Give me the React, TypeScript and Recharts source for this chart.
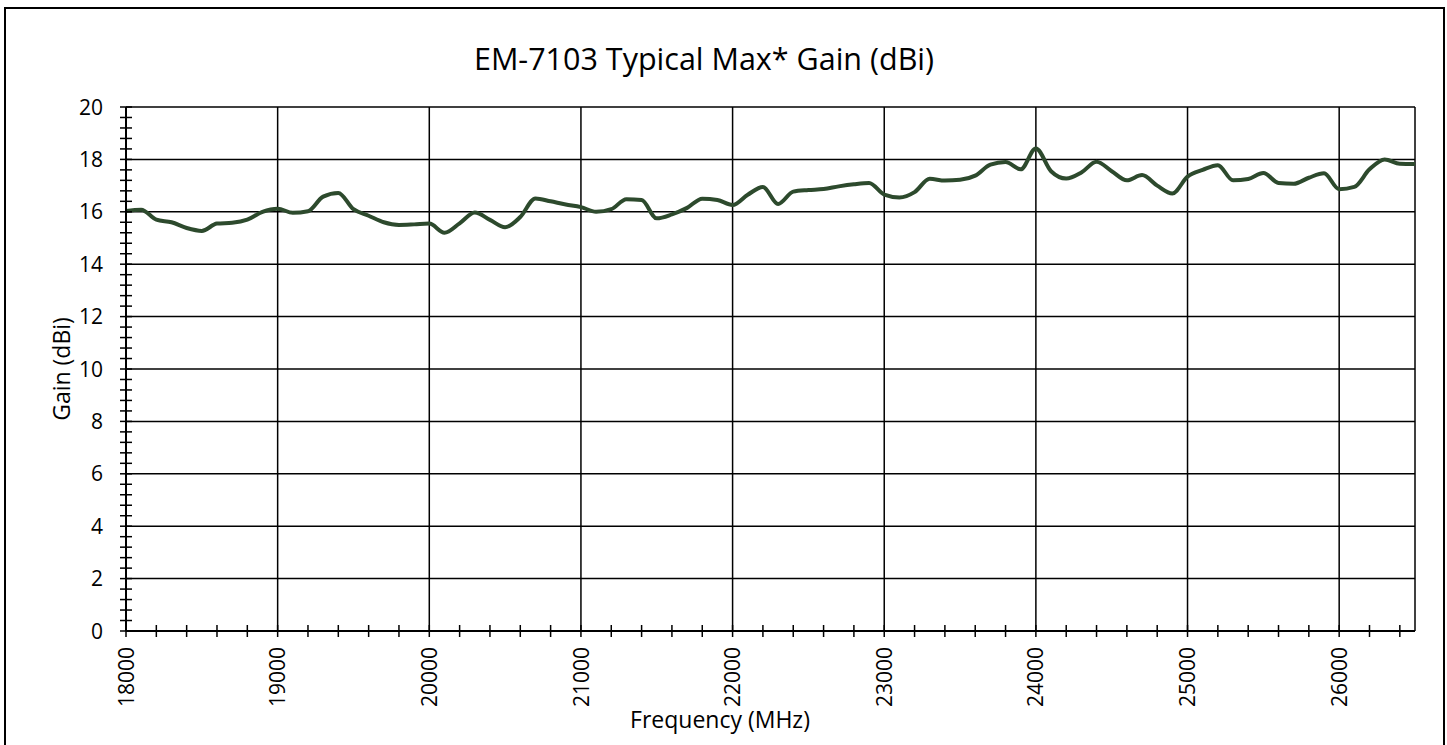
import React from "react";
import { CartesianGrid, Line, LineChart, XAxis, YAxis } from "recharts";

// frequency (MHz) and measured max gain (dBi), read every 100 MHz
const frequencies = [
  18000, 18100, 18200, 18300, 18400, 18500, 18600, 18700, 18800, 18900,
  19000, 19100, 19200, 19300, 19400, 19500, 19600, 19700, 19800, 19900,
  20000, 20100, 20200, 20300, 20400, 20500, 20600, 20700, 20800, 20900,
  21000, 21100, 21200, 21300, 21400, 21500, 21600, 21700, 21800, 21900,
  22000, 22100, 22200, 22300, 22400, 22500, 22600, 22700, 22800, 22900,
  23000, 23100, 23200, 23300, 23400, 23500, 23600, 23700, 23800, 23900,
  24000, 24100, 24200, 24300, 24400, 24500, 24600, 24700, 24800, 24900,
  25000, 25100, 25200, 25300, 25400, 25500, 25600, 25700, 25800, 25900,
  26000, 26100, 26200, 26300, 26400, 26500,
];

const gain = [
  16.03, 16.08, 15.7, 15.6, 15.38, 15.27, 15.55, 15.58, 15.7, 16.0,
  16.12, 15.96, 16.02, 16.58, 16.72, 16.1, 15.85, 15.6, 15.5, 15.52,
  15.55, 15.2, 15.56, 15.97, 15.69, 15.41, 15.8, 16.51, 16.4, 16.28,
  16.18, 16.0, 16.1, 16.48, 16.45, 15.75, 15.9, 16.15, 16.5, 16.45,
  16.26, 16.65, 16.95, 16.3, 16.77, 16.83, 16.87, 16.97, 17.05, 17.1,
  16.66, 16.55, 16.75, 17.26, 17.19, 17.22, 17.38, 17.8, 17.9, 17.62,
  18.42, 17.55, 17.27, 17.5, 17.91, 17.55, 17.2, 17.4, 17.0, 16.7,
  17.34, 17.6, 17.78, 17.2, 17.25, 17.48, 17.1, 17.07, 17.3, 17.47,
  16.86, 16.95, 17.62, 18.0, 17.83, 17.82,
];

const xMajorTicks = [18000, 19000, 20000, 21000, 22000, 23000, 24000, 25000, 26000];
const yMajorTicks = [0, 2, 4, 6, 8, 10, 12, 14, 16, 18, 20];
const xDomain: [number, number] = [18000, 26500];
const yDomain: [number, number] = [0, 20];

const FONT = "'Open Sans', sans-serif";
const LINE_COLOR = "#2d4a2d";

const data = frequencies.map((f, i) => ({ f, g: gain[i] }));

// 5 minor divisions per major step
const subdivide = (major: number[], step: number, max: number) =>
  major
    .flatMap((m) => [0, 1, 2, 3, 4].map((k) => Math.round((m + (k * step) / 5) * 100) / 100))
    .filter((v) => v <= max);

const xTicks = subdivide(xMajorTicks, 1000, xDomain[1] - 1);
const yTicks = subdivide(yMajorTicks, 2, yDomain[1]);

const Y_GAP = 23;
const X_GAP = 16;

const YTick = (props: any) => {
  const { x, y, payload } = props;
  const v = payload.value;
  const ax = x + Y_GAP;
  return (
    <g>
      <line x1={ax - 6} x2={ax + 6} y1={y} y2={y} stroke="#000" strokeWidth={1.5} />
      {yMajorTicks.includes(v) && (
        <text x={x} y={y} dy="0.36em" textAnchor="end" fontFamily={FONT} fontSize={21} fill="#000">
          {v}
        </text>
      )}
    </g>
  );
};

const XTick = (props: any) => {
  const { x, y, payload } = props;
  const v = payload.value;
  const ay = y - X_GAP;
  return (
    <g>
      <line x1={x} x2={x} y1={ay - 6} y2={ay + 6} stroke="#000" strokeWidth={1.5} />
      {xMajorTicks.includes(v) && (
        <text
          transform={`translate(${x},${y}) rotate(-90)`}
          dy="0.36em"
          textAnchor="end"
          fontFamily={FONT}
          fontSize={21}
          fill="#000"
        >
          {v}
        </text>
      )}
    </g>
  );
};

export default function App() {
  return (
    <div style={{ position: "absolute", left: 0, top: 0, width: 1447, height: 745, background: "#fff" }}>
      <LineChart width={1447} height={745} data={data} margin={{ top: 107, right: 32, bottom: 0, left: 0 }}>
        <CartesianGrid
          horizontalValues={yMajorTicks}
          verticalValues={[...xMajorTicks.slice(1), xDomain[1]]}
          stroke="#000"
          strokeWidth={1.5}
        />
        <XAxis
          dataKey="f"
          type="number"
          domain={xDomain}
          ticks={xTicks}
          interval={0}
          height={114}
          tickSize={0}
          tickMargin={X_GAP}
          tickLine={false}
          tick={<XTick />}
          axisLine={{ stroke: "#000", strokeWidth: 2 }}
        />
        <YAxis
          type="number"
          domain={yDomain}
          ticks={yTicks}
          interval={0}
          width={126}
          tickSize={0}
          tickMargin={Y_GAP}
          tickLine={false}
          tick={<YTick />}
          axisLine={{ stroke: "#000", strokeWidth: 2 }}
        />
        <Line
          type="monotone"
          dataKey="g"
          stroke={LINE_COLOR}
          strokeWidth={4}
          dot={false}
          isAnimationActive={false}
        />
      </LineChart>
      <svg
        width={1447}
        height={745}
        style={{ position: "absolute", left: 0, top: 0, pointerEvents: "none" }}
      >
        <rect x={5} y={8} width={1439} height={760} fill="none" stroke="#000" strokeWidth={2} />
        <text x={704} y={70} textAnchor="middle" fontFamily={FONT} fontSize={30.5} fill="#000">
          EM-7103 Typical Max* Gain (dBi)
        </text>
        <text x={720} y={728} textAnchor="middle" fontFamily={FONT} fontSize={23} fill="#000">
          Frequency (MHz)
        </text>
        <text
          transform="translate(70,369) rotate(-90)"
          textAnchor="middle"
          fontFamily={FONT}
          fontSize={23}
          fill="#000"
        >
          Gain (dBi)
        </text>
      </svg>
    </div>
  );
}
